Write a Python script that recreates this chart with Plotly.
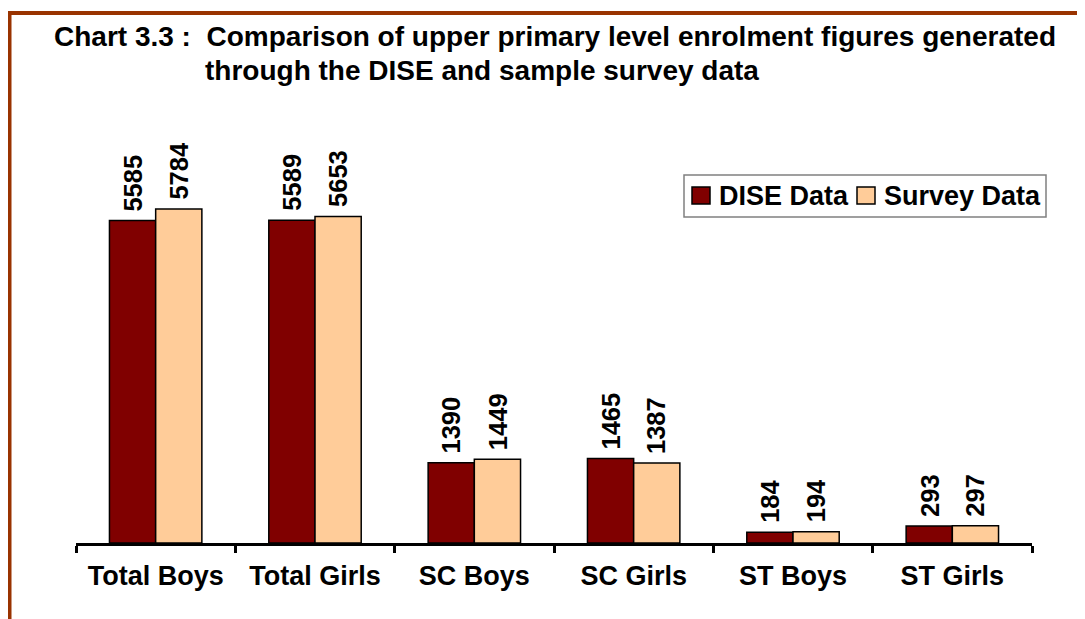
import plotly.graph_objects as go

categories = ["Total Boys", "Total Girls", "SC Boys", "SC Girls", "ST Boys", "ST Girls"]
dise_values = [5585, 5589, 1390, 1465, 184, 293]
survey_values = [5784, 5653, 1449, 1387, 194, 297]
series_names = ["DISE Data", "Survey Data"]

OFF = 8  # page body margin
W, H = 1085 - OFF, 619 - OFF
FONT = "Liberation Sans, Arial, sans-serif"
DISE_COLOR = "#800000"
SURVEY_COLOR = "#FFCC99"

def px(x):
    return (x - OFF) / W

def py(y):
    return 1 - (y - OFF) / H

fig = go.Figure()
fig.add_trace(go.Bar(name=series_names[0], x=categories, y=dise_values, showlegend=False,
                     marker=dict(color=DISE_COLOR, line=dict(color="black", width=1.5))))
fig.add_trace(go.Bar(name=series_names[1], x=categories, y=survey_values, showlegend=False,
                     marker=dict(color=SURVEY_COLOR, line=dict(color="black", width=1.5))))

annotations = []
for i, c in enumerate(categories):
    for vals, shift in ((dise_values, -23), (survey_values, 23)):
        annotations.append(dict(x=c, y=vals[i], xref="x", yref="y", text=str(vals[i]),
                                textangle=-90, showarrow=False, yanchor="bottom",
                                xshift=shift, yshift=7,
                                font=dict(family=FONT, size=25.5, color="black", weight="bold")))

# title
annotations.append(dict(x=px(52), y=py(37), xref="paper", yref="paper", xanchor="left", yanchor="middle",
                        text="Chart 3.3 :  Comparison of upper primary level enrolment figures generated",
                        showarrow=False, font=dict(family=FONT, size=28, color="black", weight="bold")))
annotations.append(dict(x=px(203), y=py(70), xref="paper", yref="paper", xanchor="left", yanchor="middle",
                        text="through the DISE and sample survey data",
                        showarrow=False, font=dict(family=FONT, size=28, color="black", weight="bold")))

shapes = [dict(type="rect", xref="paper", yref="paper", x0=px(9.5), x1=1.05, y0=-0.05, y1=py(13),
               line=dict(color="#993300", width=4), fillcolor="rgba(0,0,0,0)", layer="below")]

# legend (drawn manually to match the compact original layout)
shapes.append(dict(type="rect", xref="paper", yref="paper", x0=px(684), x1=px(1046), y0=py(217), y1=py(175),
                   line=dict(color="#808080", width=1.5), fillcolor="white", layer="above"))
for (sx0, sx1, tx), name, col in zip(((692, 710, 717), (857, 875, 882)), series_names, (DISE_COLOR, SURVEY_COLOR)):
    shapes.append(dict(type="rect", xref="paper", yref="paper", x0=px(sx0), x1=px(sx1), y0=py(204), y1=py(187),
                       line=dict(color="black", width=1.5), fillcolor=col, layer="above"))
    annotations.append(dict(x=px(tx), y=py(196), xref="paper", yref="paper", xanchor="left", yanchor="middle",
                            text=name, showarrow=False,
                            font=dict(family=FONT, size=27, color="black", weight="bold")))

fig.update_layout(
    width=W, height=H,
    margin=dict(l=0, r=0, t=0, b=0),
    paper_bgcolor="white", plot_bgcolor="white",
    barmode="group", bargap=0.42, bargroupgap=0,
    font=dict(family=FONT, size=24, color="black", weight="bold"),
    showlegend=False,
    xaxis=dict(domain=[px(76), px(1032)], showline=True, linecolor="black", linewidth=3,
               ticks="outside", tickson="boundaries", ticklen=7, tickwidth=3, tickcolor="black",
               showgrid=False, zeroline=False, ticklabelstandoff=7,
               tickfont=dict(family=FONT, size=27, color="black", weight="bold")),
    yaxis=dict(domain=[py(543), py(130)], range=[0, 7150], showline=False, showgrid=False,
               zeroline=False, showticklabels=False, ticks=""),
    annotations=annotations,
    shapes=shapes,
)

fig.write_html("out.html")
